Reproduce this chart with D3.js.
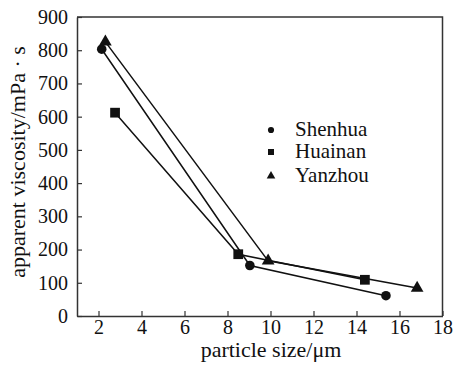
<!DOCTYPE html>
<html>
<head>
<meta charset="utf-8">
<script src="https://cdn.jsdelivr.net/npm/d3@7"></script>
<style>
  html, body { margin: 0; padding: 0; background: #fff; }
  svg { display: block; }
  svg text { font-family: "Liberation Serif", "Times New Roman", serif; fill: #111; }
</style>
</head>
<body>
<svg id="chart" width="458" height="366"></svg>
<script>
// Apparent viscosity vs. mean particle size for three coals
const seriesNames = ["Shenhua", "Huainan", "Yanzhou"];
const shenhuaSize = [2.15, 9.04, 15.37];
const shenhuaVisc = [803, 152, 61];
const huainanSize = [2.77, 8.5, 14.39];
const huainanVisc = [612, 186, 109];
const yanzhouSize = [2.32, 9.89, 16.82];
const yanzhouVisc = [825, 166, 84];
const xTicks = [2, 4, 6, 8, 10, 12, 14, 16, 18];
const yTicks = [0, 100, 200, 300, 400, 500, 600, 700, 800, 900];
const xLabel = "particle size/\u03bcm";
const yLabel = "apparent viscosity/mPa \u00b7 s";

const series = [
  { name: seriesNames[0], shape: "circle", xs: shenhuaSize, ys: shenhuaVisc },
  { name: seriesNames[1], shape: "square", xs: huainanSize, ys: huainanVisc },
  { name: seriesNames[2], shape: "triangle", xs: yanzhouSize, ys: yanzhouVisc }
];

const margin = { left: 77, top: 17, right: 15.5, bottom: 50 };
const W = 458, H = 366;
const svg = d3.select("#chart");
const serif = "'Liberation Serif', 'Times New Roman', serif";

const x = d3.scaleLinear().domain([1, 18]).range([margin.left, W - margin.right]);
const y = d3.scaleLinear().domain([0, 900]).range([H - margin.bottom, margin.top]);

const ink = "#111";
const tickFont = 20;
const titleFont = 22;

// Frame (top and right edges)
svg.append("path")
  .attr("d", `M${x(1)},${y(900)}H${x(18)}V${y(0)}`)
  .attr("fill", "none").attr("stroke", "#333").attr("stroke-width", 1.5);

// X axis: ticks point into the plot
const xAxis = svg.append("g")
  .attr("transform", `translate(0,${y(0)})`)
  .call(d3.axisBottom(x).tickValues(xTicks).tickSizeInner(-5).tickSizeOuter(0).tickPadding(4));
xAxis.attr("font-family", serif).attr("font-size", tickFont);
xAxis.select(".domain").attr("stroke", "#333").attr("stroke-width", 1.5);
xAxis.selectAll(".tick line").attr("stroke", "#333").attr("stroke-width", 1.2);
xAxis.selectAll(".tick text").attr("fill", ink).attr("font-family", serif).attr("font-size", tickFont);

// Y axis: ticks point into the plot
const yAxis = svg.append("g")
  .attr("transform", `translate(${x(1)},0)`)
  .call(d3.axisLeft(y).tickValues(yTicks).tickSizeInner(-5).tickSizeOuter(0).tickPadding(9));
yAxis.attr("font-family", serif).attr("font-size", tickFont);
yAxis.select(".domain").attr("stroke", "#333").attr("stroke-width", 1.5);
yAxis.selectAll(".tick line").attr("stroke", "#333").attr("stroke-width", 1.2);
yAxis.selectAll(".tick text").attr("fill", ink).attr("font-family", serif).attr("font-size", tickFont);

// Axis titles
svg.append("text")
  .attr("x", 271).attr("y", 357)
  .attr("text-anchor", "middle").attr("font-size", titleFont).attr("font-family", serif)
  .text(xLabel);

svg.append("text")
  .attr("transform", `translate(25,162) rotate(-90)`)
  .attr("text-anchor", "middle").attr("font-size", titleFont).attr("font-family", serif)
  .text(yLabel);

// Marker symbols
function symbolPath(shape, size) {
  const type = shape === "circle" ? d3.symbolCircle
    : shape === "square" ? d3.symbolSquare : d3.symbolTriangle;
  return d3.symbol().type(type).size(size)();
}
const markerSize = { circle: 72, square: 95, triangle: 70 };
const legendSize = { circle: 30, square: 36, triangle: 32 };

// Lines and markers for each coal
const line = d3.line().x(d => x(d[0])).y(d => y(d[1]));
series.forEach(s => {
  const pts = s.xs.map((v, i) => [v, s.ys[i]]);
  svg.append("path")
    .datum(pts)
    .attr("d", line)
    .attr("fill", "none").attr("stroke", ink).attr("stroke-width", 1.5);
  svg.append("g").selectAll("path")
    .data(pts).join("path")
    .attr("transform", d => `translate(${x(d[0])},${y(d[1])})`)
    .attr("d", symbolPath(s.shape, markerSize[s.shape]))
    .attr("fill", ink);
});

// Legend
const legendY = [130, 152, 176];
series.forEach((s, i) => {
  svg.append("path")
    .attr("transform", `translate(271,${legendY[i]})`)
    .attr("d", symbolPath(s.shape, legendSize[s.shape]))
    .attr("fill", ink);
  svg.append("text")
    .attr("x", 295).attr("y", legendY[i] + 6)
    .attr("font-size", 21).attr("font-family", serif)
    .text(s.name);
});
</script>
</body>
</html>
